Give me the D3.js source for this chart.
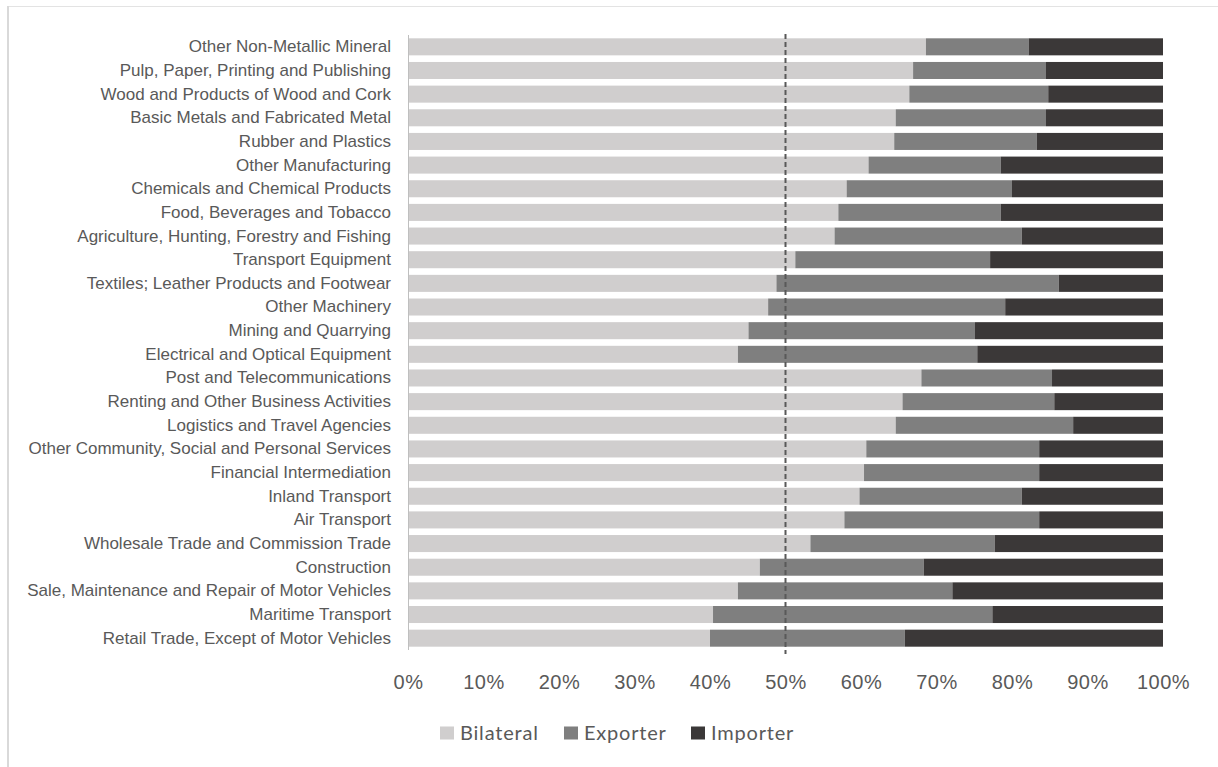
<!DOCTYPE html>
<html>
<head>
<meta charset="utf-8">
<script src="https://cdn.jsdelivr.net/npm/d3@7"></script>
<style>
    body { margin: 0; background: #fff; }
    svg { display: block; font-family: Lato, "Open Sans", sans-serif; }
</style>
</head>
<body>
<svg width="1218" height="767"></svg>
<script>
const categories = [
    "Other Non-Metallic Mineral",
    "Pulp, Paper, Printing and Publishing",
    "Wood and Products of Wood and Cork",
    "Basic Metals and Fabricated Metal",
    "Rubber and Plastics",
    "Other Manufacturing",
    "Chemicals and Chemical Products",
    "Food, Beverages and Tobacco",
    "Agriculture, Hunting, Forestry and Fishing",
    "Transport Equipment",
    "Textiles; Leather Products and Footwear",
    "Other Machinery",
    "Mining and Quarrying",
    "Electrical and Optical Equipment",
    "Post and Telecommunications",
    "Renting and Other Business Activities",
    "Logistics and Travel Agencies",
    "Other Community, Social and Personal Services",
    "Financial Intermediation",
    "Inland Transport",
    "Air Transport",
    "Wholesale Trade and Commission Trade",
    "Construction",
    "Sale, Maintenance and Repair of Motor Vehicles",
    "Maritime Transport",
    "Retail Trade, Except of Motor Vehicles"
];

// shares in %, per category
const bilateral = [68.6, 66.9, 66.4, 64.6, 64.4, 61.0, 58.1, 57.0, 56.5, 51.3, 48.8, 47.7, 45.1,
                   43.7, 68.0, 65.5, 64.6, 60.7, 60.4, 59.8, 57.8, 53.3, 46.6, 43.7, 40.4, 40.0];
const exporter  = [13.6, 17.6, 18.4, 19.9, 18.9, 17.5, 21.9, 21.5, 24.8, 25.8, 37.4, 31.4, 30.0,
                   31.7, 17.3, 20.1, 23.5, 22.9, 23.2, 21.5, 25.8, 24.4, 21.7, 28.4, 37.0, 25.8];
const importer  = [17.8, 15.5, 15.2, 15.5, 16.7, 21.5, 20.0, 21.5, 18.7, 22.9, 13.8, 20.9, 24.9,
                   24.6, 14.7, 14.4, 11.9, 16.4, 16.4, 18.7, 16.4, 22.3, 31.7, 27.9, 22.6, 34.2];

const seriesNames = ["Bilateral", "Exporter", "Importer"];
const seriesColors = ["#d0cece", "#7f7f7f", "#3b3838"];
const xTicks = [0, 10, 20, 30, 40, 50, 60, 70, 80, 90, 100];
const referenceLine = 50;

function drawChart() {
    const svg = d3.select("svg");

    // light chart frame
    svg.append("line")
        .attr("x1", 8).attr("x2", 1218).attr("y1", 6.5).attr("y2", 6.5)
        .attr("stroke", "#e3e3e3").attr("stroke-width", 1);
    svg.append("line")
        .attr("x1", 8).attr("x2", 8).attr("y1", 6).attr("y2", 767)
        .attr("stroke", "#d9d9d9").attr("stroke-width", 2);

    const table = categories.map(function (c, i) {
        return { category: c, Bilateral: bilateral[i], Exporter: exporter[i], Importer: importer[i] };
    });

    const stack = d3.stack().keys(seriesNames)
        .offset(d3.stackOffsetExpand);
    const layers = stack(table);

    const x = d3.scaleLinear().domain([0, 1]).range([408, 1163]);
    const y = d3.scaleBand().domain(categories).range([35, 650]).paddingInner(0.28).paddingOuter(0.14);
    const color = d3.scaleOrdinal().domain(seriesNames).range(seriesColors);

    svg.append("g")
        .selectAll("g")
        .data(layers)
        .enter().append("g")
        .attr("fill", function (d) { return color(d.key); })
        .selectAll("rect")
        .data(function (d) { return d; })
        .enter().append("rect")
        .attr("x", function (d) { return x(d[0]); })
        .attr("width", function (d) { return x(d[1]) - x(d[0]); })
        .attr("y", function (d) { return y(d.data.category); })
        .attr("height", y.bandwidth());

    // vertical category axis
    const yAxis = svg.append("g")
        .attr("transform", "translate(408,0)")
        .call(d3.axisLeft(y).tickSize(0).tickPadding(17));
    yAxis.select(".domain").attr("stroke", "#bfbfbf").attr("d", "M0.5,35V650");
    yAxis.selectAll("text")
        .attr("fill", "#595959")
        .style("font-size", "17px");

    // dashed reference line at 50%
    svg.append("line")
        .attr("x1", x(referenceLine / 100)).attr("x2", x(referenceLine / 100))
        .attr("y1", 34).attr("y2", 654)
        .attr("stroke", "#595959")
        .attr("stroke-width", 2)
        .attr("stroke-dasharray", "5,3");

    // percent ticks along the bottom
    const xAxis = svg.append("g")
        .attr("transform", "translate(0,650)")
        .call(d3.axisBottom(x).tickValues(xTicks.map(function (t) { return t / 100; }))
            .tickFormat(function (t) { return Math.round(t * 100) + "%"; })
            .tickSize(0).tickPadding(25));
    xAxis.select(".domain").remove();
    xAxis.selectAll("text")
        .attr("fill", "#595959")
        .style("font-size", "20px")
        .style("letter-spacing", "0.5px");

    // legend
    const legendX = [440, 564, 691];
    const legend = svg.append("g")
        .selectAll("g")
        .data(seriesNames)
        .enter().append("g")
        .attr("transform", function (d, i) { return "translate(" + legendX[i] + ",733)"; });
    legend.append("rect")
        .attr("x", 0).attr("y", -6.5)
        .attr("width", 14).attr("height", 13)
        .attr("fill", function (d) { return color(d); });
    legend.append("text")
        .attr("x", 20).attr("dy", "0.36em")
        .attr("fill", "#595959")
        .style("font-size", "20px")
        .style("letter-spacing", "0.8px")
        .text(function (d) { return d; });
}

drawChart();
</script>
</body>
</html>
